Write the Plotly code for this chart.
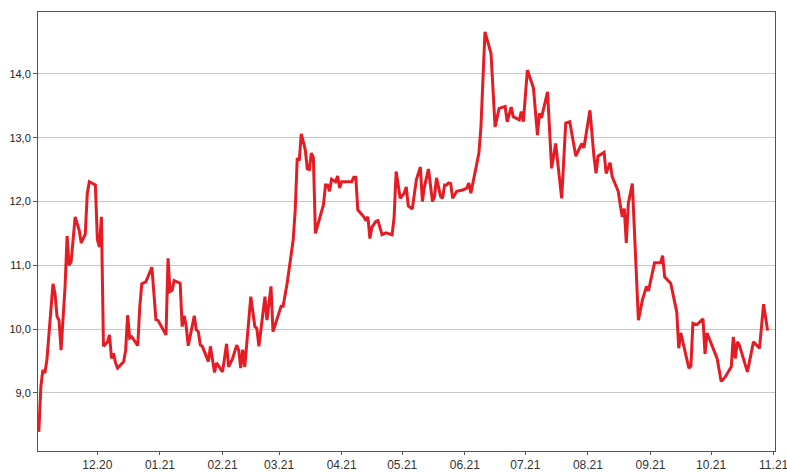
import plotly.graph_objects as go

dates = [
    "2020-11-02", "2020-11-03", "2020-11-04", "2020-11-05", "2020-11-06", "2020-11-09",
    "2020-11-10", "2020-11-11", "2020-11-12", "2020-11-13", "2020-11-15", "2020-11-16",
    "2020-11-17", "2020-11-18", "2020-11-20", "2020-11-22", "2020-11-23", "2020-11-25",
    "2020-11-26", "2020-11-27", "2020-11-30", "2020-12-01", "2020-12-02", "2020-12-03",
    "2020-12-04", "2020-12-06", "2020-12-07", "2020-12-08", "2020-12-09", "2020-12-10",
    "2020-12-11", "2020-12-14", "2020-12-15", "2020-12-16", "2020-12-17", "2020-12-18",
    "2020-12-21", "2020-12-22", "2020-12-23", "2020-12-25", "2020-12-28", "2020-12-30",
    "2020-12-31", "2021-01-04", "2021-01-05", "2021-01-06", "2021-01-07", "2021-01-08",
    "2021-01-11", "2021-01-12", "2021-01-13", "2021-01-14", "2021-01-15", "2021-01-18",
    "2021-01-19", "2021-01-20", "2021-01-21", "2021-01-22", "2021-01-25", "2021-01-26",
    "2021-01-28", "2021-01-29", "2021-02-01", "2021-02-03", "2021-02-04", "2021-02-06",
    "2021-02-08", "2021-02-09", "2021-02-10", "2021-02-11", "2021-02-12", "2021-02-15",
    "2021-02-17", "2021-02-18", "2021-02-19", "2021-02-22", "2021-02-23", "2021-02-25",
    "2021-02-26", "2021-03-02", "2021-03-03", "2021-03-05", "2021-03-08", "2021-03-09",
    "2021-03-10", "2021-03-11", "2021-03-12", "2021-03-14", "2021-03-15", "2021-03-16",
    "2021-03-17", "2021-03-18", "2021-03-19", "2021-03-21", "2021-03-23", "2021-03-24",
    "2021-03-25", "2021-03-26", "2021-03-27", "2021-03-29", "2021-03-30", "2021-03-31",
    "2021-04-01", "2021-04-06", "2021-04-07", "2021-04-08", "2021-04-09", "2021-04-12",
    "2021-04-13", "2021-04-14", "2021-04-15", "2021-04-16", "2021-04-18", "2021-04-19",
    "2021-04-21", "2021-04-23", "2021-04-26", "2021-04-27", "2021-04-28", "2021-04-30",
    "2021-05-02", "2021-05-03", "2021-05-04", "2021-05-06", "2021-05-07", "2021-05-08",
    "2021-05-10", "2021-05-11", "2021-05-12", "2021-05-14", "2021-05-16", "2021-05-17",
    "2021-05-18", "2021-05-20", "2021-05-21", "2021-05-22", "2021-05-23", "2021-05-24",
    "2021-05-25", "2021-05-26", "2021-05-28", "2021-05-31", "2021-06-02", "2021-06-03",
    "2021-06-04", "2021-06-08", "2021-06-09", "2021-06-11", "2021-06-14", "2021-06-16",
    "2021-06-18", "2021-06-21", "2021-06-22", "2021-06-24", "2021-06-25", "2021-06-28",
    "2021-06-29", "2021-06-30", "2021-07-02", "2021-07-05", "2021-07-07", "2021-07-08",
    "2021-07-09", "2021-07-12", "2021-07-14", "2021-07-16", "2021-07-19", "2021-07-21",
    "2021-07-23", "2021-07-26", "2021-07-27", "2021-07-28", "2021-07-29", "2021-07-30",
    "2021-08-02", "2021-08-04", "2021-08-05", "2021-08-06", "2021-08-09", "2021-08-10",
    "2021-08-12", "2021-08-13", "2021-08-16", "2021-08-17", "2021-08-18", "2021-08-19",
    "2021-08-20", "2021-08-21", "2021-08-23", "2021-08-26", "2021-08-28", "2021-08-30",
    "2021-08-31", "2021-09-03", "2021-09-06", "2021-09-07", "2021-09-08", "2021-09-11",
    "2021-09-14", "2021-09-15", "2021-09-16", "2021-09-20", "2021-09-21", "2021-09-22",
    "2021-09-24", "2021-09-27", "2021-09-28", "2021-09-29", "2021-10-04", "2021-10-06",
    "2021-10-08", "2021-10-11", "2021-10-12", "2021-10-13", "2021-10-14", "2021-10-15",
    "2021-10-19", "2021-10-22", "2021-10-25", "2021-10-27", "2021-10-29",
]

values = [
    8.39, 9.10, 9.36, 9.31, 9.52, 10.71,
    10.56, 10.20, 10.14, 9.67, 10.67, 11.46,
    11.00, 11.06, 11.76, 11.55, 11.35, 11.49,
    12.13, 12.31, 12.26, 11.40, 11.29, 11.76,
    9.73, 9.80, 9.91, 9.54, 9.62, 9.47,
    9.39, 9.49, 9.67, 10.22, 9.86, 9.88,
    9.74, 10.35, 10.71, 10.74, 10.97, 10.15,
    10.14, 9.91, 11.11, 10.59, 10.61, 10.76,
    10.72, 10.04, 10.21, 10.04, 9.74, 10.21,
    9.99, 9.96, 9.75, 9.73, 9.49, 9.73,
    9.32, 9.47, 9.33, 9.77, 9.41, 9.54,
    9.75, 9.67, 9.39, 9.68, 9.41, 10.51,
    10.04, 10.01, 9.73, 10.51, 10.14, 10.67,
    9.96, 10.36, 10.36, 10.72, 11.40, 11.87,
    12.68, 12.64, 13.06, 12.81, 12.51, 12.50,
    12.76, 12.69, 11.50, 11.71, 11.95, 12.26,
    12.26, 12.16, 12.35, 12.31, 12.40, 12.21,
    12.31, 12.31, 12.38, 12.38, 11.87, 11.76,
    11.70, 11.76, 11.42, 11.60, 11.69, 11.70,
    11.48, 11.51, 11.48, 11.76, 12.47, 12.05,
    12.13, 12.23, 11.93, 11.88, 12.13, 12.34,
    12.54, 12.00, 12.23, 12.51, 12.00, 12.08,
    12.37, 12.08, 12.05, 12.26, 12.26, 12.29,
    12.28, 12.05, 12.16, 12.18, 12.21, 12.29,
    12.13, 12.76, 13.17, 14.66, 14.32, 13.17,
    13.46, 13.49, 13.25, 13.48, 13.33, 13.28,
    13.41, 13.25, 14.06, 13.78, 13.04, 13.38,
    13.31, 13.72, 12.52, 12.91, 12.05, 13.23,
    13.25, 12.71, 12.78, 12.84, 12.91, 12.84,
    13.43, 12.70, 12.44, 12.71, 12.77, 12.44,
    12.61, 12.39, 12.16, 11.95, 11.76, 11.89,
    11.35, 11.97, 12.28, 10.14, 10.46, 10.67,
    10.60, 11.04, 11.04, 11.15, 10.82, 10.72,
    10.27, 9.70, 9.94, 9.39, 9.42, 10.09,
    10.07, 10.16, 9.61, 9.94, 9.54, 9.18,
    9.25, 9.41, 9.88, 9.54, 9.80, 9.75,
    9.33, 9.80, 9.70, 10.39, 9.98,
]

month_ticks = [
    "2020-12-01", "2021-01-01", "2021-02-01", "2021-03-01", "2021-04-01", "2021-05-01",
    "2021-06-01", "2021-07-01", "2021-08-01", "2021-09-01", "2021-10-01", "2021-11-01",
]
month_labels = ["12.20", "01.21", "02.21", "03.21", "04.21", "05.21",
                "06.21", "07.21", "08.21", "09.21", "10.21", "11.21"]
y_ticks = [9.0, 10.0, 11.0, 12.0, 13.0, 14.0]

fig = go.Figure()
fig.add_trace(go.Scatter(
    x=dates, y=values, mode="lines",
    line=dict(color="#e61c24", width=3),
    hoverinfo="skip",
))

fig.update_layout(
    width=787, height=472,
    margin=dict(l=38, r=12, t=12, b=21, autoexpand=False),
    paper_bgcolor="white", plot_bgcolor="white",
    showlegend=False,
    separators=", ",
    font=dict(family="Liberation Sans, Arial, sans-serif", color="#222222"),
)

fig.update_xaxes(
    type="date",
    range=["2020-11-01 14:00", "2021-11-01 16:00"],
    tickmode="array", tickvals=month_ticks, ticktext=month_labels,
    ticks="outside", ticklen=3, tickcolor="#555555",
    tickfont=dict(size=12, color="#333333"),
    ticklabeloverflow="allow",
    showgrid=False, zeroline=False, automargin=False,
    showline=True, linecolor="#555555", linewidth=1, mirror=True,
)
fig.update_yaxes(
    range=[8.09, 14.97],
    tickmode="array", tickvals=y_ticks, tickformat=".1f",
    ticks="outside", ticklen=4, tickcolor="#555555",
    tickfont=dict(size=11, color="#222222"),
    showgrid=True, gridcolor="#c8c8c8", gridwidth=1,
    zeroline=False, automargin=False,
    showline=True, linecolor="#555555", linewidth=1, mirror=True,
)

fig.write_html(
    "out.html",
    config={"displayModeBar": False},
    post_script="document.body.style.margin='0';document.body.style.overflow='hidden';",
)
